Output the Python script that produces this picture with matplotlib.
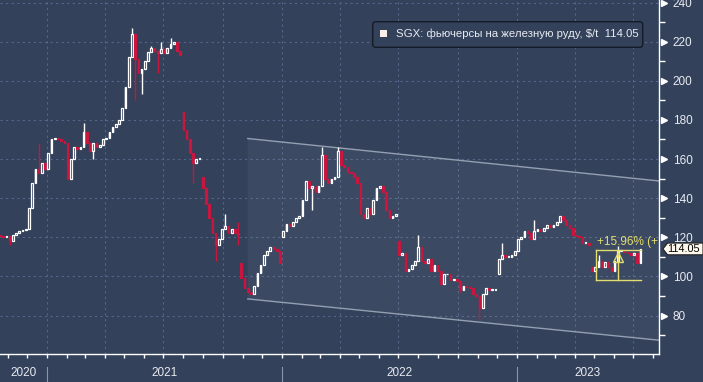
import matplotlib
matplotlib.use("Agg")
import matplotlib.pyplot as plt
import matplotlib.dates as mdates
from matplotlib.patches import Polygon, FancyBboxPatch, Rectangle
from matplotlib.transforms import IdentityTransform
import pandas as pd

plt.rcParams["font.family"] = ["Liberation Sans", "DejaVu Sans"]

# --- data (one candle every 5 calendar days) ---
closes = [
    120.5, 120, 120.5, 118, 121, 122, 123, 123.5, 124, 135,
    148, 155, 153, 158, 155, 163, 170, 171, 170, 169,
    168, 150, 160, 166, 165, 166, 174, 168, 164, 168,
    166, 167, 170, 171, 174, 176.5, 178, 180, 186, 197,
    212, 224, 211, 204, 206, 210, 214.7, 217, 215, 214,
    216, 214, 217, 219, 220, 215, 213, 175, 170, 163,
    158, 160, 160, 145, 137, 130, 122, 116, 119, 124,
    126, 122, 124, 122, 121, 99, 94, 92, 91, 95,
    102, 106, 111, 113, 115, 114, 113, 107, 123, 127,
    126, 128, 130, 131, 139, 149, 145, 146, 143, 146,
    162, 150, 148, 150, 151, 164, 157, 156, 153.5, 153,
    151, 148, 132, 130, 135, 132, 139, 145, 146, 143,
    134, 130, 131, 132, 111, 112, 103, 104, 106, 108,
    115, 108, 107, 109, 103, 106, 103, 96, 101, 101,
    98, 98.5, 97.5, 93, 95, 94.5, 94, 91, 90, 84,
    91, 94, 93, 93, 93, 109, 111, 110, 110, 111,
    113, 119, 120, 123, 122, 119, 123, 124, 123, 125,
    126.5, 125.5, 126.5, 128, 131, 129, 126.5, 125, 121, 120.5,
    120, 117, 117, 116, 103, 105, 108, 105, 107.5, 105,
    103, 108, 113, 113, 112.7, 112, 111, 112, 107, 114.05,
]
# opens where the front-month contract rolls (otherwise open = previous close)
roll_opens = {0: 121, 57: 184, 63: 151, 75: 107, 88: 120, 124: 118, 155: 101, 184: 105}
# wick extremes that stick out of the bodies
highs = {12: 168, 26: 178.6, 41: 227, 47: 218, 50: 220, 53: 222, 70: 132, 74: 128,
         100: 166, 105: 166, 130: 121, 156: 117, 166: 129, 186: 111, 192: 115.3}
lows = {3: 116, 29: 160, 42: 190, 44: 193, 49: 204, 60: 148, 67: 108, 74: 116,
        97: 134, 143: 92, 149: 78}

series_label = "SGX: фьючерсы на железную руду, $/t"
channel_dates = ["2021-11-09", "2023-08-10"]
channel_upper = [170.5, 148.8]
channel_lower = [88.5, 67.4]
measure_dates = ["2023-05-04", "2023-06-07", "2023-07-13"]
measure_low, measure_high = 98.0, 113.64
y_ticks = [80, 100, 120, 140, 160, 180, 200, 220, 240]
years = [2020, 2021, 2022, 2023]

BG = "#33415b"
RED = "#c8163e"
GRID = "#56668a"
YELLOW = "#e3dc6f"
TXT = "#e8ebf1"
W, H = 703, 382

start = pd.Timestamp("2020-10-20")
x_left, x_right = start, pd.Timestamp("2023-08-10")
dates = pd.date_range(start, periods=len(closes), freq="5D")
xs = mdates.date2num(dates)
opens = [roll_opens.get(i, closes[i - 1]) for i in range(len(closes))]

fig = plt.figure(figsize=(W / 100, H / 100), dpi=100, facecolor=BG)
bottom = (H - 353.5) / H
ax = fig.add_axes([0, bottom, 659 / W, 1 - bottom])
ax.set_facecolor(BG)
ax.set_xlim(mdates.date2num(x_left), mdates.date2num(x_right))
ax.set_ylim(60.6, 241.3)

# grid
for v in y_ticks:
    ax.axhline(v, color=GRID, lw=0.8, ls=(0, (2, 3)), zorder=0)
for q in pd.date_range("2021-01-01", "2023-07-01", freq="QS"):
    ax.axvline(mdates.date2num(q), color=GRID, lw=0.8, ls=(0, (2, 3)), zorder=0)

# trend channel
cx = mdates.date2num(pd.to_datetime(channel_dates))
ax.add_patch(Polygon([(cx[0], channel_lower[0]), (cx[0], channel_upper[0]),
                      (cx[1], channel_upper[1]), (cx[1], channel_lower[1])],
                     closed=True, facecolor="white", alpha=0.045, edgecolor="none", zorder=1))
ax.plot(cx, channel_upper, color="#959fb2", lw=1, zorder=2)
ax.plot(cx, channel_lower, color="#959fb2", lw=1, zorder=2)

# candles
body_w = 2.6
for i, (xi, o, c) in enumerate(zip(xs, opens, closes)):
    up = c >= o
    hi = highs.get(i, max(o, c))
    lo = lows.get(i, min(o, c))
    col = "white" if up else RED
    ax.vlines(xi, lo, hi, color=col, lw=1, zorder=3)
    h = max(abs(c - o), 0.4)
    ax.add_patch(Rectangle((xi - body_w / 2, min(o, c)), body_w, h,
                           facecolor=BG if up else RED, edgecolor=col, lw=0.9, zorder=4))

# measuring tool (yellow)
mx = mdates.date2num(pd.to_datetime(measure_dates))
ax.plot([mx[0], mx[2]], [measure_high, measure_high], color=YELLOW, lw=1, zorder=5)
ax.plot([mx[0], mx[2]], [measure_low, measure_low], color=YELLOW, lw=1, zorder=5)
ax.plot([mx[0], mx[0]], [measure_low, measure_high], color=YELLOW, lw=1, zorder=5)
ax.plot([mx[1], mx[1]], [measure_low, measure_high], color=YELLOW, lw=1, zorder=5)
ax.plot([mx[1]], [measure_high - 3.5], marker="^", ms=7, mfc="none", mec=YELLOW, zorder=5)
pct = (measure_high / measure_low - 1) * 100
ax.text(mx[0] + 1, measure_high + 0.8, f"+{pct:.2f}% (+{measure_high - measure_low:.2f})",
        color=YELLOW, fontsize=8.5, va="bottom", ha="left", clip_on=True, zorder=6)

# spines
for s in ["top", "left"]:
    ax.spines[s].set_visible(False)
for s in ["right", "bottom"]:
    ax.spines[s].set_color("white")
    ax.spines[s].set_linewidth(1)

# y axis on the right
ax.yaxis.tick_right()
ax.set_yticks(y_ticks)
ax.set_yticks([v + 10 for v in y_ticks[:-1]] + [70], minor=True)
ax.tick_params(axis="y", which="major", length=0, pad=10, labelcolor=TXT, labelsize=8.5)
ax.tick_params(axis="y", which="minor", length=4, color="white", width=1)
ax.plot([1.008] * len(y_ticks), y_ticks, marker=">", ms=5, color="white", ls="none",
        transform=ax.get_yaxis_transform(), clip_on=False)

# x axis: monthly ticks, year labels below
months = pd.date_range("2020-11-01", "2023-08-01", freq="MS")
ax.set_xticks(mdates.date2num(months))
ax.set_xticklabels([])
ax.tick_params(axis="x", length=3, color="white", width=1)
xt = ax.get_xaxis_transform()
for yr in years:
    a = max(pd.Timestamp(f"{yr}-01-01"), x_left)
    b = min(pd.Timestamp(f"{yr + 1}-01-01"), x_right)
    mid = mdates.date2num(a + (b - a) / 2)
    ax.text(mid, -0.055, str(yr), transform=xt, ha="center", va="center",
            color=TXT, fontsize=8.5, clip_on=False)
    if yr > years[0]:
        xb = mdates.date2num(pd.Timestamp(f"{yr}-01-01"))
        ax.plot([xb, xb], [-0.038, -0.09], transform=xt, color="#8a96ab", lw=0.8, clip_on=False)

# last-price tag
last = closes[-1]
yt = ax.get_yaxis_transform()
half = 3.0
tag = Polygon([(1.006, last), (1.013, last + half), (703 / 659, last + half),
               (703 / 659, last - half), (1.013, last - half)], closed=True,
              transform=yt, facecolor="#fff8ec", edgecolor="#222222", lw=0.8, clip_on=False, zorder=10)
ax.add_patch(tag)
ax.text(1.0375, last, f"{last:.2f}", transform=yt, ha="center", va="center",
        fontsize=7.8, color="black", clip_on=False, zorder=11)

# legend box
fig.add_artist(FancyBboxPatch((372.7, H - 47.3), 270, 25.6,
                              boxstyle="round,pad=0,rounding_size=3",
                              facecolor=BG, edgecolor="#141b27", lw=1,
                              transform=IdentityTransform()))
fig.add_artist(Rectangle((380, H - 37), 7, 7, facecolor="#fbefea",
                         edgecolor="none", transform=IdentityTransform()))
fig.text(396 / W, 1 - 34 / H, f"{series_label}  {last:.2f}", ha="left", va="center",
         color=TXT, fontsize=8.2)

fig.savefig("out.png", dpi=100, facecolor=BG)
